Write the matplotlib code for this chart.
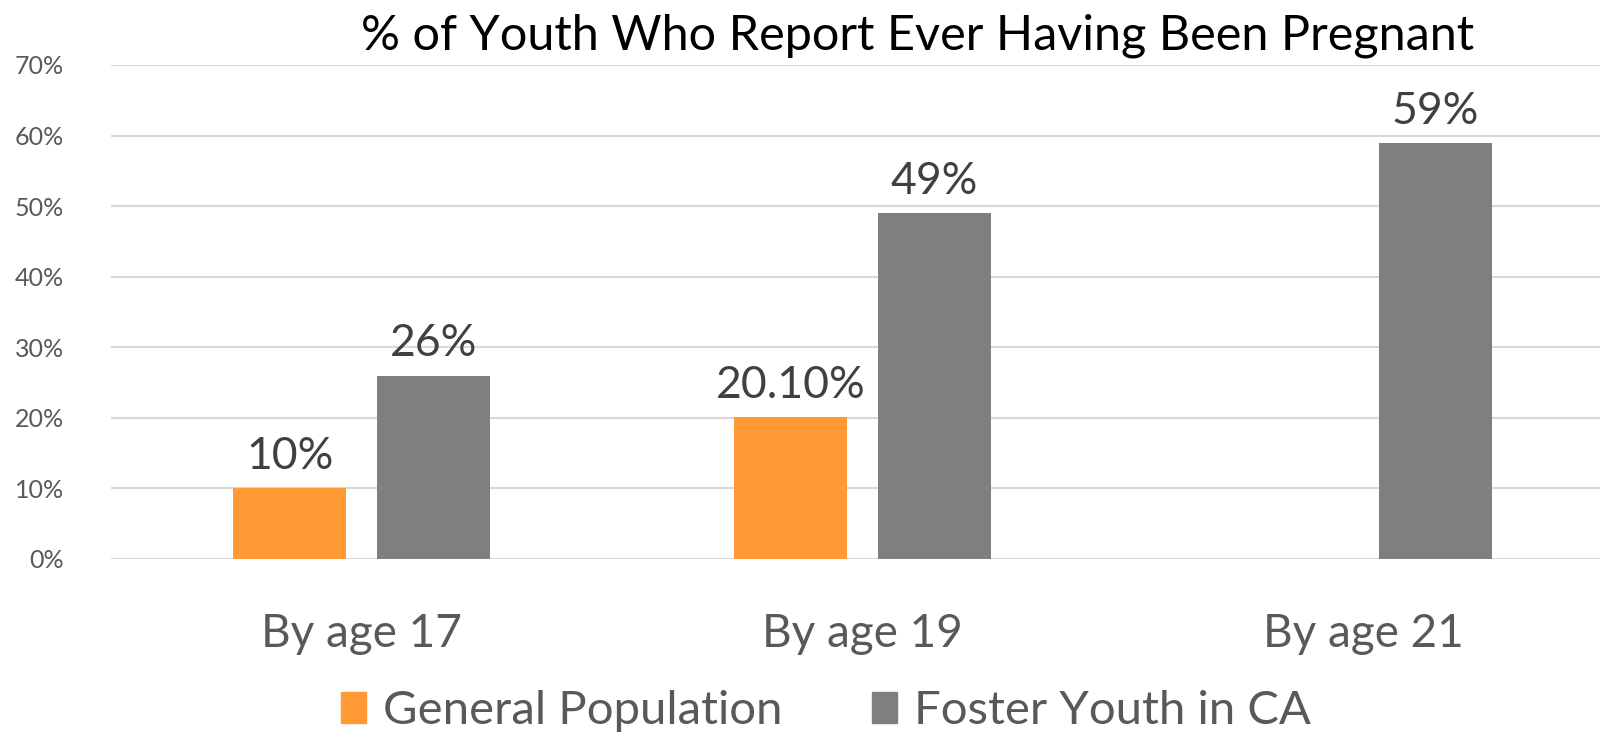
import matplotlib
matplotlib.use("Agg")
import matplotlib.pyplot as plt
import numpy as np
from matplotlib.patches import Patch

categories = ["By age 17", "By age 19", "By age 21"]
general = [10, 20.1, np.nan]
foster = [26, 49, 59]
general_labels = ["10%", "20.10%", ""]
foster_labels = ["26%", "49%", "59%"]
series_names = ["General Population", "Foster Youth in CA"]
yticks = [0, 10, 20, 30, 40, 50, 60, 70]
ytick_labels = ["0%", "10%", "20%", "30%", "40%", "50%", "60%", "70%"]
title = "% of Youth Who Report Ever Having Been Pregnant"

ORANGE = "#FF9A35"
GRAY = "#7F7F7F"
plt.rcParams['font.family'] = ['Lato', 'DejaVu Sans']

fig = plt.figure(figsize=(16, 7.36), dpi=100)
L, B, T = 111, 559, 65
ax = fig.add_axes([L/1600, 1-B/736, 1-L/1600, (B-T)/736])

x = np.arange(len(categories))
w = 0.2255
off = 0.143
ax.bar(x - off, general, w, color=ORANGE, zorder=3)
ax.bar(x + off, foster, w, color=GRAY, zorder=3)

for xi, v, lab in zip(x - off, general, general_labels):
    if not np.isnan(v):
        ax.annotate(lab, (xi, v), xytext=(0, 8), textcoords="offset points",
                    ha="center", va="bottom", fontsize=32, color="#404040")
for xi, v, lab in zip(x + off, foster, foster_labels):
    ax.annotate(lab, (xi, v), xytext=(0, 8), textcoords="offset points",
                ha="center", va="bottom", fontsize=32, color="#404040")

ax.set_ylim(0, 70)
ax.set_xlim(-0.5, -0.5 + (1600-L)/501)
ax.set_yticks(yticks)
ax.set_yticklabels(ytick_labels, fontsize=18, color="#595959")
ax.set_xticks(x)
ax.set_xticklabels(categories, fontsize=33, color="#595959")
ax.tick_params(axis="y", length=0, pad=34)
ax.tick_params(axis="x", length=0, pad=39)
ax.grid(axis="y", color="#D9D9D9", linewidth=1.5, zorder=0)
ax.set_axisbelow(True)
for s in ax.spines.values():
    s.set_visible(False)

fig.text(918/1600, 1-36/736, title, ha="center", va="center", fontsize=35, color="#000000")

handles = [Patch(color=ORANGE), Patch(color=GRAY)]
fig.legend(handles, series_names, loc="center", bbox_to_anchor=(826/1600, 1-711/736),
           ncol=2, frameon=False, fontsize=34, handlelength=0.53, handleheight=0.64,
           handletextpad=0.35, columnspacing=1.9, labelcolor="#595959")

fig.savefig("out.png", dpi=100)
